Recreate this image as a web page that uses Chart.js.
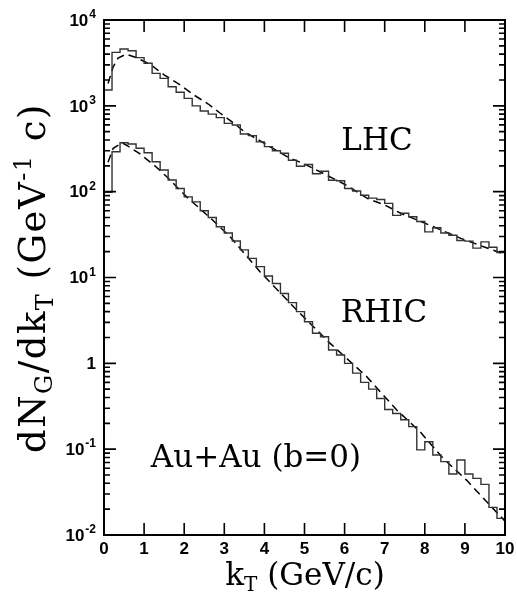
<!DOCTYPE html>
<html>
<head>
<meta charset="utf-8">
<script src="https://cdn.jsdelivr.net/npm/chart.js@4"></script>
<style>
  html, body { margin: 0; padding: 0; background: #fff; }
  canvas { display: block; }
</style>
</head>
<body>
<canvas id="gluonChart" width="517" height="595"></canvas>
<script>
// bins of 0.2 GeV/c from 0 to 10
const binWidth = 0.2;

// histograms (dN/dkT per bin)
const lhcHist = [1530, 4200, 4590, 4390, 3640, 3130, 2390, 2090, 1670, 1440,
  1220, 1000, 870, 800, 728, 625, 598, 470, 450, 380,
  335, 300, 280, 232, 198, 207, 162, 173, 136, 134,
  109, 102, 91, 84, 81, 73, 53, 56, 51, 45,
  34, 38, 33, 31, 27, 26.5, 22, 26, 22.5, 19.5];

const rhicHist = [98, 292, 372, 359, 320, 284, 223, 179, 137, 109,
  87, 76, 60, 50, 39, 33, 26.6, 21, 16.7, 13.4,
  10.4, 8.5, 6.5, 5.1, 4.0, 3.05, 2.24, 2.04, 1.43, 1.25,
  1.0, 0.77, 0.6, 0.5, 0.39, 0.29, 0.26, 0.22, 0.183, 0.098,
  0.122, 0.0855, 0.0715, 0.0513, 0.0748, 0.0513, 0.0457, 0.0389, 0.021, 0.0156];

// smooth (dashed) curves
const lhcFitK = [0.1, 0.23, 0.35, 0.55, 0.8, 1.15, 1.5, 1.9, 2.25, 2.6, 2.9, 3.25, 3.5, 4.0, 4.6, 5.0, 5.5, 6.0, 6.6, 7.0, 7.4, 8.0, 8.9, 9.5, 10.0];
const lhcFit = [1820, 2850, 3600, 4000, 3650, 3050, 2300, 1750, 1330, 1050, 820, 620, 500, 365, 250, 210, 160, 122, 82, 70, 56, 43, 28.6, 22.5, 18.6];

const rhicFitK = [0.1, 0.23, 0.45, 0.6, 0.9, 1.27, 1.56, 2.06, 2.64, 3.14, 3.89, 4.8, 5.64, 6.55, 7.3, 7.88, 8.46, 9.04, 9.58, 10.0];
const rhicFit = [220, 320, 372, 340, 275, 200, 150, 87, 50, 30, 11.7, 4.2, 1.71, 0.70, 0.286, 0.16, 0.078, 0.0436, 0.0234, 0.0145];

// axes
const xTicks = [0, 1, 2, 3, 4, 5, 6, 7, 8, 9, 10];
const yDecades = [0.01, 0.1, 1, 10, 100, 1000, 10000];
const yTickLabels = [["10", "-2"], ["10", "-1"], ["1", ""], ["10", "1"], ["10", "2"], ["10", "3"], ["10", "4"]];

const binEdges = lhcHist.map((_, i) => +(i * binWidth).toFixed(1)).concat([10]);

function histPoints(vals) {
  const pts = vals.map((v, i) => ({ x: binEdges[i], y: v }));
  pts.push({ x: binEdges[vals.length], y: vals[vals.length - 1] });
  return pts;
}
function curvePoints(ks, vals) {
  return ks.map((k, i) => ({ x: k, y: vals[i] }));
}

const tickFont = "bold 17px 'Liberation Sans'";
const supFont = "bold 12px 'Liberation Sans'";

// draws text pieces with sub/superscripts, centred on cx
function drawPieces(ctx, pieces, cx, base, size, spacing) {
  const big = size + "px 'DejaVu Serif'";
  const small = Math.round(size * 0.64) + "px 'DejaVu Serif'";
  ctx.letterSpacing = (spacing || 0) + "px";
  let total = 0;
  pieces.forEach(p => {
    ctx.font = p[1] ? small : big;
    total += ctx.measureText(p[0]).width;
  });
  let x = cx - total / 2;
  pieces.forEach(p => {
    ctx.font = p[1] ? small : big;
    ctx.fillText(p[0], x, base + (p[1] || 0));
    x += ctx.measureText(p[0]).width;
  });
  ctx.letterSpacing = "0px";
}

const framePlugin = {
  id: "frame",
  afterDatasetsDraw(chart) {
    const { ctx, chartArea: a, scales: { x, y } } = chart;
    ctx.save();
    ctx.strokeStyle = "#000";
    ctx.fillStyle = "#000";
    ctx.lineWidth = 2;
    ctx.strokeRect(a.left, a.top, a.right - a.left, a.bottom - a.top);

    ctx.lineWidth = 1.6;
    ctx.beginPath();
    xTicks.forEach(v => {
      const px = x.getPixelForValue(v);
      ctx.moveTo(px, a.bottom); ctx.lineTo(px, a.bottom - 12);
      ctx.moveTo(px, a.top); ctx.lineTo(px, a.top + 12);
    });
    yDecades.forEach((d, i) => {
      const py = y.getPixelForValue(d);
      ctx.moveTo(a.left, py); ctx.lineTo(a.left + 12, py);
      ctx.moveTo(a.right, py); ctx.lineTo(a.right - 12, py);
      if (i < yDecades.length - 1) {
        for (let m = 2; m <= 9; m++) {
          const pm = y.getPixelForValue(m * d);
          ctx.moveTo(a.left, pm); ctx.lineTo(a.left + 6, pm);
          ctx.moveTo(a.right, pm); ctx.lineTo(a.right - 6, pm);
        }
      }
    });
    ctx.stroke();

    // tick labels
    ctx.font = tickFont;
    ctx.textAlign = "center";
    ctx.textBaseline = "top";
    xTicks.forEach(v => ctx.fillText(String(v), x.getPixelForValue(v), a.bottom + 6));

    ctx.textBaseline = "middle";
    ctx.textAlign = "left";
    yDecades.forEach((d, i) => {
      const py = y.getPixelForValue(d) + 1;
      const [base, exp] = yTickLabels[i];
      ctx.font = supFont;
      const we = exp ? ctx.measureText(exp).width + 1 : 0;
      ctx.font = tickFont;
      const wb = ctx.measureText(base).width;
      const left = 96 - we - wb;
      ctx.fillText(base, left, py);
      if (exp) {
        ctx.font = supFont;
        ctx.fillText(exp, left + wb + 1, py - 6);
      }
    });

    // axis titles
    ctx.textAlign = "left";
    ctx.textBaseline = "alphabetic";
    drawPieces(ctx, [["k"], ["T", 6], [" (GeV/c)"]], 305, 585, 31, 0);

    ctx.save();
    ctx.translate(45, 278);
    ctx.rotate(-Math.PI / 2);
    drawPieces(ctx, [["dN"], ["G", 7], ["/dk"], ["T", 8], [" (GeV"], ["-1", -14], [" c)"]], 0, 0, 37, 1.5);
    ctx.restore();

    // curve labels
    ctx.font = "31px 'DejaVu Serif'";
    ctx.textAlign = "center";
    ctx.fillText("LHC", 377, 150);
    ctx.fillText("RHIC", 384, 322);
    ctx.fillText("Au+Au (b=0)", 256, 467);
    ctx.restore();
  }
};

new Chart(document.getElementById("gluonChart"), {
  type: "line",
  data: {
    datasets: [
      { data: histPoints(lhcHist), stepped: true, borderColor: "#333", borderWidth: 1.4 },
      { data: histPoints(rhicHist), stepped: true, borderColor: "#333", borderWidth: 1.4 },
      { data: curvePoints(lhcFitK, lhcFit), borderColor: "#000", borderWidth: 1.5, borderDash: [8, 5] },
      { data: curvePoints(rhicFitK, rhicFit), borderColor: "#000", borderWidth: 1.5, borderDash: [8, 5] }
    ]
  },
  options: {
    responsive: false,
    animation: false,
    layout: { padding: { left: 104, right: 12, top: 20, bottom: 60 } },
    elements: { point: { radius: 0 }, line: { tension: 0 } },
    plugins: { legend: { display: false }, tooltip: { enabled: false } },
    scales: {
      x: { type: "linear", min: 0, max: 10, display: false },
      y: { type: "logarithmic", min: 0.01, max: 10000, display: false }
    }
  },
  plugins: [framePlugin]
});
</script>
</body>
</html>
